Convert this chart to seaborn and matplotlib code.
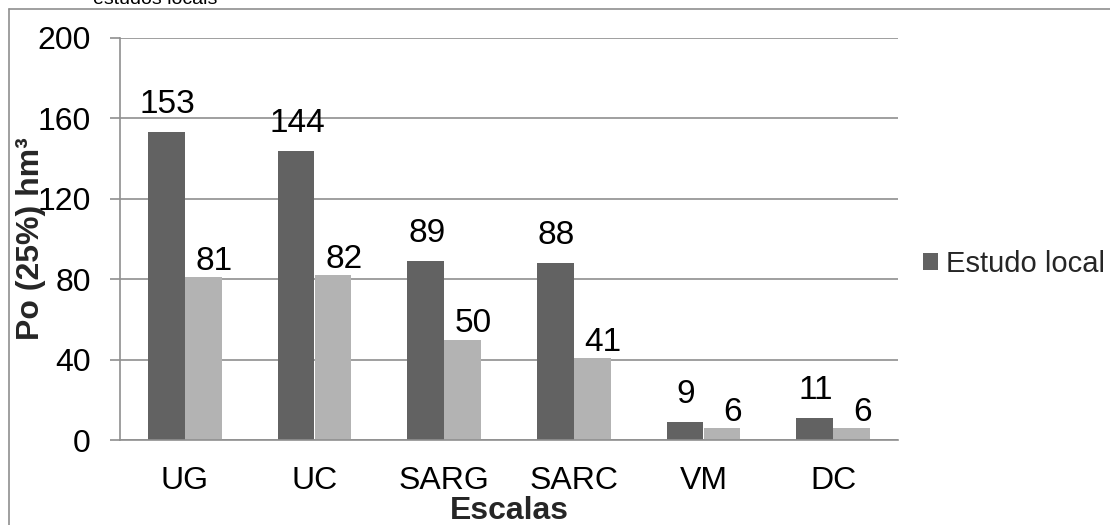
import matplotlib
matplotlib.use("Agg")
import matplotlib.pyplot as plt
import seaborn as sns
import pandas as pd
import numpy as np
from matplotlib.patches import Patch
from matplotlib.lines import Line2D

categories = ["UG", "UC", "SARG", "SARC", "VM", "DC"]
series_names = ["Estudo local", "Estudo regional"]
local_values = [153, 144, 89, 88, 9, 11]
regional_values = [81, 82, 50, 41, 6, 6]
y_ticks = [0, 40, 80, 120, 160, 200]

df = pd.DataFrame({
    "Escala": categories * 2,
    "Serie": [series_names[0]] * len(categories) + [series_names[1]] * len(categories),
    "Valor": local_values + regional_values,
})

sns.set_theme(style="white")
plt.rcParams["font.family"] = ["Liberation Sans", "DejaVu Sans"]

fig = plt.figure(figsize=(11.1, 5.25), dpi=100)
ax = fig.add_axes([120 / 1110, 1 - 440 / 525, 778 / 1110, 402 / 525])

colors = ["#626262", "#b3b3b3"]
sns.barplot(data=df, x="Escala", y="Valor", hue="Serie", order=categories,
            hue_order=series_names, palette=colors, width=0.57, ax=ax,
            legend=False, saturation=1, edgecolor="none")

ax.set_ylim(0, 200)
ax.set_xlim(-0.5, len(categories) - 0.5)
ax.set_yticks(y_ticks)
ax.set_yticklabels([str(v) for v in y_ticks])
ax.yaxis.grid(True, color="#8f8f8f", linewidth=1.2)
ax.set_axisbelow(True)

for s in ["top", "right"]:
    ax.spines[s].set_visible(False)
for s in ["left", "bottom"]:
    ax.spines[s].set_color("#8f8f8f")
    ax.spines[s].set_linewidth(1.2)

# x ticks: labels at centers, tick marks at boundaries
ax.set_xticks(np.arange(len(categories)))
ax.set_xticklabels(categories)
ax.set_xticks(np.arange(len(categories) + 1) - 0.5, minor=True)
ax.tick_params(axis="x", which="major", length=0, pad=19, labelsize=23, colors="black")
ax.tick_params(axis="x", which="minor", length=7, width=1.2, color="#8f8f8f", direction="out")
ax.tick_params(axis="y", which="major", length=7, width=1.2, color="#8f8f8f",
               direction="out", pad=14, labelsize=23, labelcolor="black", left=True)

ax.set_xlabel("Escalas", fontsize=23, fontweight="bold", labelpad=0)
ax.set_ylabel("Po (25%) hm³", fontsize=23, fontweight="bold")
ax.yaxis.label.set_va("center")
ax.yaxis.set_label_coords(-0.114, 0.5)

# value labels
offsets = [(1, 19), (11, 7)]
for cont, (dx, dy) in zip(ax.containers, offsets):
    for bar in cont:
        h = bar.get_height()
        ax.annotate(f"{int(round(h))}", (bar.get_x() + bar.get_width() / 2, h),
                    xytext=(dx, dy), textcoords="offset pixels",
                    ha="center", va="baseline", fontsize=24, color="black",
                    annotation_clip=False)

handles = [Patch(facecolor=colors[0], edgecolor="none")]
fig.legend(handles, [series_names[0]], loc="center left",
           bbox_to_anchor=(923 / 1110, 1 - 264 / 525), frameon=False,
           fontsize=21, handlelength=0.5, handleheight=0.5, handletextpad=0.3,
           borderaxespad=0, borderpad=0)

# outer frame (clipped at right and bottom)
fig.add_artist(Line2D([9 / 1110, 9 / 1110], [0, 1 - 9 / 525], transform=fig.transFigure,
                      color="#8f8f8f", linewidth=1.2))
fig.add_artist(Line2D([9 / 1110, 1], [1 - 9 / 525, 1 - 9 / 525], transform=fig.transFigure,
                      color="#8f8f8f", linewidth=1.2))

fig.text(155 / 1110, 1 - 4 / 525, "estudos locais", ha="center", va="baseline",
         fontsize=14, color="black")

fig.savefig("out.png", dpi=100)
